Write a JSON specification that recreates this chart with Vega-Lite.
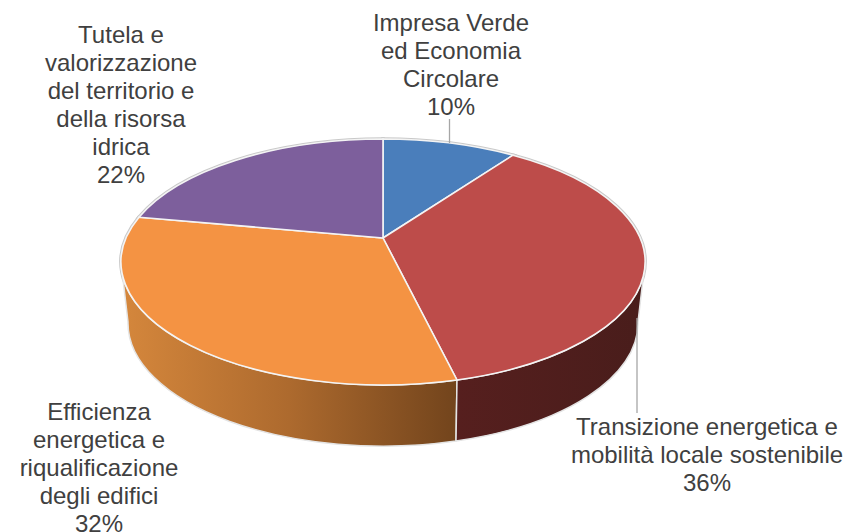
{
"$schema":"https://vega.github.io/schema/vega-lite/v6.json",
"width":848,"height":532,"autosize":{"type":"none"},"padding":0,"background":"#ffffff",
"config":{"view":{"stroke":null},"text":{"font":"Liberation Sans","fontSize":24,"fill":"#404040","align":"center","baseline":"top","lineBreak":"\n","lineHeight":27.9}},
"data":{"values":[
{"slice":"Impresa Verde ed Economia Circolare","share":10,"label":"Impresa Verde\ned Economia\nCircolare\n10%"},
{"slice":"Transizione energetica e mobilità locale sostenibile","share":36,"label":"Transizione energetica e\nmobilità locale sostenibile\n36%"},
{"slice":"Efficienza energetica e riqualificazione degli edifici","share":32,"label":"Efficienza\nenergetica e\nriqualificazione\ndegli edifici\n32%"},
{"slice":"Tutela e valorizzazione del territorio e della risorsa idrica","share":22,"label":"Tutela e\nvalorizzazione\ndel territorio e\ndella risorsa\nidrica\n22%"}
]},
"layer":[
{"mark":{"type":"point","filled":true,"size":4,"opacity":1,"stroke":"#c9c9c9","strokeWidth":3.5},
 "encoding":{"shape":{"field":"slice","type":"nominal","legend":null,"scale":{"domain":["Impresa Verde ed Economia Circolare","Transizione energetica e mobilità locale sostenibile","Efficienza energetica e riqualificazione degli edifici","Tutela e valorizzazione del territorio e della risorsa idrica"],"range":["M-41,-28L-41,-127A262,123 0 0 1 89,-110.8Z","M-41,-28L89,-110.8A262,123 0 0 1 33,114Z","M-41,-28L33,114A262,123 0 0 1 -285,-48.8Z","M-41,-28L-285,-48.8A262,123 0 0 1 -41,-127Z"]}}}},
{"transform":[{"filter":"datum.share==32"}],
 "mark":{"type":"point","size":4,"opacity":1,"filled":true,"stroke":"#e4e4e4","strokeWidth":1.5,"shape":"M-303,-4L-296,56A255,123 0 0 0 32,175L33,114A262,123 0 0 1 -303,-4Z",
 "fill":{"gradient":"linear","x1":0,"y1":0,"x2":1,"y2":0,"stops":[{"offset":0,"color":"#d5873c"},{"offset":0.5,"color":"#ad6a2e"},{"offset":1,"color":"#72441c"}]}}},
{"transform":[{"filter":"datum.share==36"}],
 "mark":{"type":"point","size":4,"opacity":1,"filled":true,"stroke":"#e4e4e4","strokeWidth":1.5,"shape":"M33,114L32,175A255,123 0 0 0 214,56L221,-4A262,123 0 0 1 33,114Z",
 "fill":{"gradient":"linear","x1":0,"y1":0,"x2":1,"y2":0,"stops":[{"offset":0,"color":"#561f1e"},{"offset":1,"color":"#491d1b"}]}}},
{"mark":{"type":"point","filled":true,"size":4,"opacity":1,"stroke":"#f4f4f4","strokeWidth":1.6},
 "encoding":{"shape":{"field":"slice","type":"nominal","legend":null},
 "color":{"field":"slice","type":"nominal","legend":null,"scale":{"domain":["Impresa Verde ed Economia Circolare","Transizione energetica e mobilità locale sostenibile","Efficienza energetica e riqualificazione degli edifici","Tutela e valorizzazione del territorio e della risorsa idrica"],"range":["#4a7ebb","#bd4c4a","#f49343","#7d5f9c"]}}}},
{"transform":[{"filter":"datum.share==10"}],"mark":{"type":"point","size":4,"opacity":1,"filled":false,"stroke":"#a6a6a6","strokeWidth":1.3,"shape":"M25.5,-147L25.5,-123"}},
{"transform":[{"filter":"datum.share==36"}],"mark":{"type":"point","size":4,"opacity":1,"filled":false,"stroke":"#a6a6a6","strokeWidth":1.3,"shape":"M213,52L213,147"}},
{"transform":[{"filter":"datum.share==10"}],"mark":{"type":"text","dx":27,"dy":-254},"encoding":{"text":{"field":"label"}}},
{"transform":[{"filter":"datum.share==36"}],"mark":{"type":"text","dx":283,"dy":150},"encoding":{"text":{"field":"label"}}},
{"transform":[{"filter":"datum.share==32"}],"mark":{"type":"text","dx":-325,"dy":135},"encoding":{"text":{"field":"label"}}},
{"transform":[{"filter":"datum.share==22"}],"mark":{"type":"text","dx":-303,"dy":-242},"encoding":{"text":{"field":"label"}}}
]
}
